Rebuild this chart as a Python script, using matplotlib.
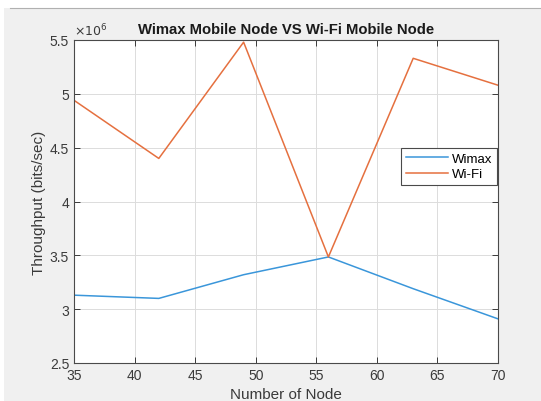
import numpy as np
import matplotlib
matplotlib.use('Agg')
import matplotlib.pyplot as plt
from matplotlib.patches import Rectangle
from matplotlib.lines import Line2D

plt.rcParams['font.family'] = ['Liberation Sans', 'DejaVu Sans']

# data
nodes = [35, 42, 49, 56, 63, 70]
wimax = [3.13e6, 3.10e6, 3.32e6, 3.485e6, 3.19e6, 2.91e6]
wifi = [4.94e6, 4.40e6, 5.48e6, 3.485e6, 5.33e6, 5.08e6]

BLUE = '#3a96da'
ORANGE = '#e5703f'
TXT = '#3a3a3a'

fig = plt.figure(figsize=(5.41, 4.02), dpi=100)
fig.patch.set_facecolor('#f0f0f0')
# window chrome: white strip at top and left edge
fig.add_artist(Rectangle((0, 1 - 9 / 402), 1, 9 / 402, transform=fig.transFigure,
                         facecolor='white', edgecolor='none'))
fig.add_artist(Rectangle((0, 0), 4 / 541, 1, transform=fig.transFigure,
                         facecolor='white', edgecolor='none'))
fig.add_artist(Line2D([10 / 541, 1], [1 - 9 / 402] * 2, transform=fig.transFigure,
                      color='#b0b0b0', lw=0.8))

ax = fig.add_axes([74 / 541, 1 - 364 / 402, 424 / 541, 323 / 402])
ax.plot(nodes, wimax, color=BLUE, lw=1.1, label='Wimax')
ax.plot(nodes, wifi, color=ORANGE, lw=1.1, label='Wi-Fi')

ax.set_xlim(35, 70)
ax.set_ylim(2.5e6, 5.5e6)
ax.set_xticks(np.arange(35, 71, 5))
ax.set_yticks(np.arange(2.5e6, 5.51e6, 0.5e6))
ax.set_yticklabels(['2.5', '3', '3.5', '4', '4.5', '5', '5.5'])
ax.text(0.0, 1.005, r'$\times10^6$', transform=ax.transAxes, fontsize=9,
        color=TXT, ha='left', va='bottom')

ax.grid(True, color='#dcdcdc', lw=0.7)
ax.tick_params(direction='in', top=True, right=True, labelsize=10,
               colors=TXT, length=4, width=0.7)
for s in ax.spines.values():
    s.set_color('#4a4a4a')
    s.set_linewidth(0.8)

ax.set_title('Wimax Mobile Node VS Wi-Fi Mobile Node', fontsize=10.7,
             fontweight='bold', color='#1a1a1a', pad=5)
ax.set_xlabel('Number of Node', fontsize=11, color=TXT, labelpad=4)
ax.set_ylabel('Throughput (bits/sec)', fontsize=11, color=TXT, labelpad=3)

leg = ax.legend(loc='upper right', bbox_to_anchor=(0.998, 0.666), fontsize=9.5,
                fancybox=False, framealpha=1, edgecolor='#4a4a4a',
                handlelength=3.2, borderpad=0.35, labelspacing=0.25,
                handletextpad=0.3, borderaxespad=0)
leg.get_frame().set_linewidth(0.8)

fig.savefig('out.png', dpi=100, facecolor=fig.get_facecolor())
